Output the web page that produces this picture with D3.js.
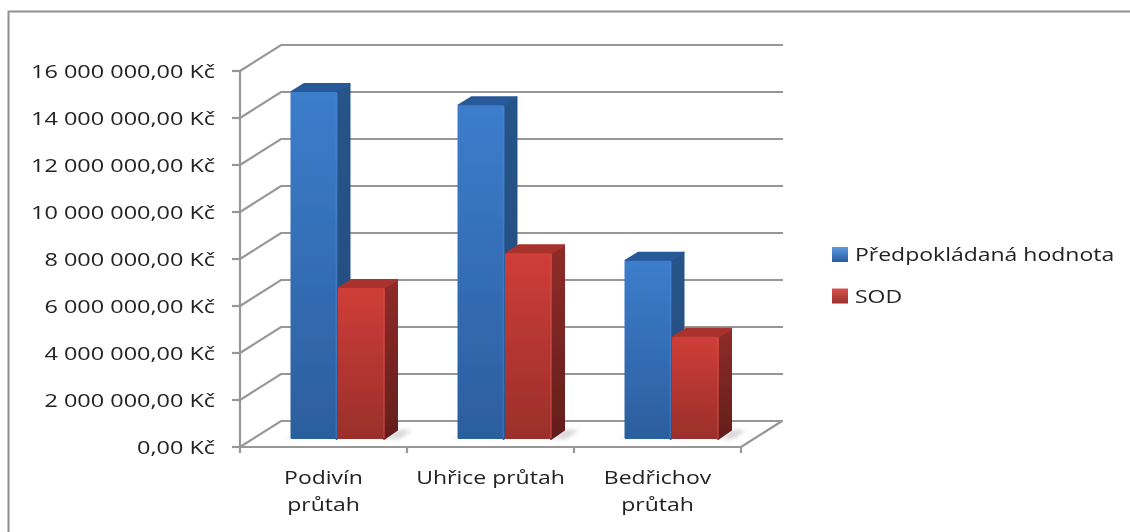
<!DOCTYPE html>
<html><head><meta charset="utf-8">
<script src="https://cdn.jsdelivr.net/npm/d3@7"></script>
<style>html,body{margin:0;background:#fff;overflow:hidden}svg{display:block}text{font-family:"Open Sans","DejaVu Sans",sans-serif;fill:#222}</style>
</head><body><div id="c"></div>
<script>
const categories=[["Podivín","průtah"],["Uhřice průtah"],["Bedřichov","průtah"]];
const seriesNames=["Předpokládaná hodnota","SOD"];
const predpokladana=[14770000,14200000,7590000];
const sod=[6430000,7900000,4350000];
const tickValues=[0,2e6,4e6,6e6,8e6,10e6,12e6,14e6,16e6];
const tickLabels=["0,00 Kč","2 000 000,00 Kč","4 000 000,00 Kč","6 000 000,00 Kč","8 000 000,00 Kč","10 000 000,00 Kč","12 000 000,00 Kč","14 000 000,00 Kč","16 000 000,00 Kč"];
const W=1130,H=532;
const svg=d3.select("#c").append("svg").attr("width",W).attr("height",H);
const defs=svg.append("defs");
defs.append("filter").attr("id","soft").attr("x","-5%").attr("y","-5%").attr("width","110%").attr("height","110%")
 .append("feGaussianBlur").attr("stdDeviation",0.7);
defs.append("filter").attr("id","soft2").attr("x","-30%").attr("y","-30%").attr("width","160%").attr("height","160%")
 .append("feGaussianBlur").attr("stdDeviation",2);
function grad(id,a,b){const g=defs.append("linearGradient").attr("id",id).attr("x1",0).attr("x2",0).attr("y1",0).attr("y2",1);
 g.append("stop").attr("offset","0%").attr("stop-color",a);g.append("stop").attr("offset","100%").attr("stop-color",b);}
grad("bF","#3c7dcc","#2c5e9e");grad("bS","#285488","#234c80");
grad("rF","#cf3d38","#9a2f2b");grad("rS","#8f2c29","#631e1c");
grad("lb","#5b9be0","#2a5a9c");grad("lr","#d9514c","#98302c");

const dx=41,dy=-26;
const y=d3.scaleLinear().domain([0,16e6]).range([447,71]);
const x=d3.scaleBand().domain(d3.range(categories.length)).range([240,741]);
const colors=[["url(#bF)","url(#bS)","#285a98"],["url(#rF)","url(#rS)","#a8322d"]];
const edge=["#4a8ad6","#d9524c"];
const grey="#979797";

svg.append("path").attr("d",d3.line()([[8.5,H+5],[8.5,11.5],[W+5,11.5]])).attr("fill","none").attr("stroke","#8f8f8f").attr("stroke-width",2);

const root=svg.append("g").attr("filter","url(#soft)");
const g=root.append("g").attr("fill","none").attr("stroke",grey).attr("stroke-width",2.2);
tickValues.forEach(v=>{
 g.append("path").attr("d",d3.line()([[x.range()[0],y(v)],[x.range()[0]+dx,y(v)+dy],[x.range()[1]+dx+1,y(v)+dy]]));
 g.append("line").attr("x1",232).attr("x2",x.range()[0]).attr("y1",y(v)).attr("y2",y(v));
});
g.append("line").attr("x1",240).attr("x2",240).attr("y1",y(16e6)).attr("y2",y(0)+6);
g.append("line").attr("x1",240).attr("x2",741).attr("y1",y(0)).attr("y2",y(0));
g.append("line").attr("x1",741).attr("x2",782).attr("y1",y(0)).attr("y2",y(0)+dy);
x.domain().forEach(i=>{const xx=x(i)+x.bandwidth();
 g.append("line").attr("x1",xx).attr("x2",xx).attr("y1",y(0)).attr("y2",y(0)+6);});

const bw=47, depthX=13, depthY=-9;
const yb=d3.scaleLinear().domain([0,16e6]).range([439,63]);
[predpokladana,sod].forEach((vals,s)=>{
 vals.forEach((v,i)=>{
  const x0=x(i)+x.bandwidth()/2+14-bw+s*(bw+0.5), x1=x0+bw, yT=yb(v), yB=yb(0);
  if(s==1) root.append("path").attr("d",d3.line()([[x1,yB],[x1+depthX,yB+depthY],[x1+depthX+14,yB+depthY],[x1+14,yB]])+"Z").attr("fill","#000").attr("opacity",0.16).attr("filter","url(#soft2)");
  if(s==0) root.append("rect").attr("x",x0-4).attr("y",yB-2).attr("width",6).attr("height",2).attr("fill","#000").attr("opacity",0.12).attr("filter","url(#soft2)");
  const join=p=>p.attr("stroke-linejoin","round").attr("stroke-width",2);
  join(root.append("path").attr("d",d3.line()([[x1-1,yT+1],[x1+depthX-1,yT+depthY+1],[x1+depthX-1,yB+depthY],[x1-1,yB]])+"Z").attr("fill",colors[s][1]).attr("stroke",colors[s][1]));
  join(root.append("path").attr("d",d3.line()([[x0+1,yT],[x0+depthX+1,yT+depthY+1],[x1+depthX-1,yT+depthY+1],[x1-1,yT]])+"Z").attr("fill",colors[s][2]).attr("stroke",colors[s][2]));
  root.append("rect").attr("x",x0).attr("y",yT).attr("width",bw).attr("height",yB-yT).attr("rx",1.5).attr("fill",colors[s][0]);
  root.append("rect").attr("x",x1-2).attr("y",yT+1).attr("width",1.5).attr("height",yB-yT-2).attr("fill",edge[s]).attr("opacity",0.4);
 });
});

// text: the reference is stretched horizontally, so glyphs are widened with a scale
function label(parent,tx,ty,str,anchor,sx){
 return parent.append("text").attr("transform",`translate(${tx},${ty}) scale(${sx},1)`)
  .attr("text-anchor",anchor).attr("font-size",19).text(str);
}
const txt=svg.append("g").attr("filter","url(#soft)");
tickValues.forEach((v,i)=>label(txt,215,y(v)+6.5,tickLabels[i],"end",1.235));
categories.forEach((c,i)=>c.forEach((l,k)=>label(txt,x(i)+x.bandwidth()/2,484+k*27,l,"middle",1.21)));
seriesNames.forEach((n,i)=>{
 const yy=254.5+i*41.5;
 txt.append("rect").attr("x",832).attr("y",yy-7.5).attr("width",16).attr("height",15).attr("fill",i==0?"url(#lb)":"url(#lr)");
 label(txt,855,yy+6.5,n,"start",1.21);
});
</script></body></html>
